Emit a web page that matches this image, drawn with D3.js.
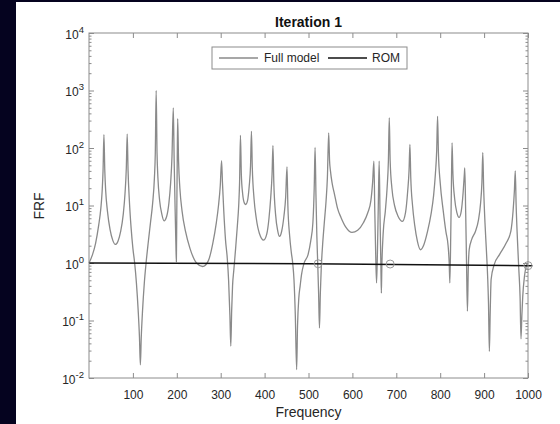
<!DOCTYPE html>
<html>
<head>
<meta charset="utf-8">
<script src="https://cdn.jsdelivr.net/npm/d3@7"></script>
<style>
  html, body { margin: 0; padding: 0; background: #05031f; }
  #chart { width: 560px; height: 424px; }
</style>
</head>
<body>
<div id="chart"></div>
<script>
// Full model FRF: [frequency, |FRF|]
const fullModel = [
  [0, 1.0], [8, 1.4], [15, 2.2], [22, 4.5], [27, 9], [30, 18], [32, 40], [34, 170],
  [36, 40], [38, 18], [42, 8], [48, 3.8], [54, 2.5], [60, 2.1], [66, 2.4], [72, 3.5],
  [78, 7], [82, 16], [85, 45], [87, 175], [89, 40], [92, 12], [96, 4], [100, 1.8],
  [104, 1.0], [108, 0.45], [112, 0.15], [115, 0.05], [117, 0.017], [119, 0.05], [122, 0.15],
  [126, 0.45], [130, 1.0], [135, 2.3], [140, 5], [145, 11], [149, 30], [151, 80], [153, 1000],
  [155, 80], [157, 30], [161, 12], [166, 7], [171, 5.4], [177, 6.5], [182, 11], [186, 25],
  [189, 70], [192, 500], [194, 60], [196, 10], [198, 2], [199, 1.05], [200, 8], [201, 60],
  [202, 325], [204, 60], [207, 20], [212, 8], [220, 3.5], [230, 1.8], [245, 1.0], [259, 0.87],
  [272, 1.1], [282, 2.2], [290, 5], [295, 10], [299, 22], [302, 60], [304, 25], [307, 8],
  [311, 2.5], [315, 1.2], [318, 0.5], [321, 0.12], [323, 0.036], [325, 0.15], [327, 0.4],
  [330, 0.77], [334, 1.8], [338, 4.5], [341, 10], [343, 25], [345, 166], [347, 35], [350, 16],
  [354, 11], [357, 10.4], [361, 12], [365, 22], [368, 50], [370, 195], [372, 45], [376, 13],
  [381, 6], [388, 3.3], [398, 2.5], [405, 3.2], [410, 6], [414, 14], [417, 35], [419, 110],
  [421, 25], [425, 7], [430, 3.6], [434, 2.9], [439, 3.6], [444, 6.5], [448, 14], [451, 47],
  [453, 10], [457, 3], [461, 1.5], [464, 1.0], [467, 0.5], [470, 0.12], [473, 0.014],
  [475, 0.08], [478, 0.25], [481, 0.4], [484, 0.62], [490, 1.0], [499, 1.4], [505, 2.4],
  [510, 5], [513, 20], [515, 102], [517, 15], [519, 3], [521, 1.0], [523, 0.3], [525, 0.074],
  [527, 0.3], [529, 0.8], [532, 2], [536, 5], [540, 12], [543, 30], [546, 183], [548, 60],
  [550, 40], [554, 24], [559, 16], [566, 9], [574, 6.2], [585, 4.2], [599, 3.4], [612, 3.7],
  [625, 5], [635, 7.5], [642, 12], [646, 25], [649, 59], [651, 8], [653, 1.5], [655, 0.45],
  [657, 1.5], [659, 10], [661, 59], [663, 6], [665, 0.8], [666, 0.3], [667, 0.8], [670, 3.2],
  [675, 8], [679, 20], [682, 60], [684, 335], [686, 60], [690, 20], [696, 10], [704, 6.5],
  [714, 5.3], [721, 7.5], [726, 18], [729, 40], [731, 115], [733, 30], [737, 10], [742, 4.5],
  [748, 2.4], [755, 1.7], [763, 2.1], [771, 3.5], [779, 7], [785, 15], [789, 35], [792, 90],
  [794, 355], [796, 80], [800, 25], [807, 8], [813, 3.5], [818, 2], [820.5, 1], [822, 0.45],
  [824, 3], [825.5, 20], [827, 123], [829, 35], [833, 13], [838, 7.5], [843, 6.2], [848, 8],
  [852, 16], [855, 35], [856, 45], [858, 8], [860, 1], [862, 0.145], [864, 0.8], [866, 1.7],
  [872, 2.6], [880, 3.5], [887, 5.5], [892, 11], [895, 25], [897, 83], [899, 20], [902, 5],
  [905, 1.8], [908, 0.6], [910, 0.2], [912, 0.029], [914, 0.15], [916, 0.52], [923, 0.94],
  [935, 1.4], [950, 2.2], [961, 3.6], [966, 8], [969, 18], [971, 40], [973, 10], [976, 2.5],
  [979, 0.8], [982, 0.25], [984, 0.048], [986, 0.12], [988, 0.26], [992, 0.59], [996, 0.88],
  [1000, 1.0]
];

// reduced order model
const romModel = [[0, 1.0], [500, 0.97], [1010, 0.895]];
// interpolation points (open circles)
const romPoints = [[522, 0.97], [686, 0.96], [1000, 0.9]];

const xTicks = [100, 200, 300, 400, 500, 600, 700, 800, 900, 1000];
const yTicks = [1e-2, 1e-1, 1e0, 1e1, 1e2, 1e3, 1e4];
const yExponents = ['-2', '-1', '0', '1', '2', '3', '4'];
const legendNames = ['Full model', 'ROM'];
const legendColors = ['#8a8a8a', '#111111'];

(function () {
  'use strict';

  const W = 560, H = 424;
  const m = { left: 89, right: 528, top: 33, bottom: 378 };
  const FONT = "'Liberation Sans', Arial, Helvetica, sans-serif";
  const AXIS = '#8c8c8c', TEXT = '#262626';

  const svg = d3.select('#chart').append('svg').attr('width', W).attr('height', H);

  // white figure panel on the dark page
  svg.append('rect').attr('x', 16).attr('y', 2).attr('width', W - 16).attr('height', H - 2).attr('fill', '#fff');

  const x = d3.scaleLinear().domain([0, 1000]).range([m.left, m.right]);
  const y = d3.scaleLog().domain([1e-2, 1e4]).range([m.bottom, m.top]);

  // ticks (inward, mirrored on top/right)
  const minor = y.ticks().filter(v => yTicks.indexOf(v) < 0);
  function styleAxis(sel) {
    sel.selectAll('.domain').remove();
    sel.selectAll('line').attr('stroke', AXIS);
    sel.selectAll('text').style('font-family', FONT).style('font-size', '12px').attr('fill', TEXT);
  }
  svg.append('g').attr('transform', `translate(0,${m.bottom})`)
    .call(d3.axisBottom(x).tickValues(xTicks).tickFormat(d3.format('d'))
      .tickSizeInner(-5).tickSizeOuter(0).tickPadding(12.5))
    .call(styleAxis);
  svg.append('g').attr('transform', `translate(0,${m.top})`)
    .call(d3.axisTop(x).tickValues(xTicks).tickSizeInner(-5).tickSizeOuter(0).tickFormat(''))
    .call(styleAxis);
  [[m.left, d3.axisLeft], [m.right, d3.axisRight]].forEach(([px, ax]) => {
    svg.append('g').attr('transform', `translate(${px},0)`)
      .call(ax(y).tickValues(minor).tickSizeInner(-2.5).tickSizeOuter(0).tickFormat(''))
      .call(styleAxis);
    svg.append('g').attr('transform', `translate(${px},0)`)
      .call(ax(y).tickValues(yTicks).tickSizeInner(-5).tickSizeOuter(0).tickFormat(''))
      .call(styleAxis);
  });

  // y tick labels with superscripts
  const yl = svg.append('g');
  yTicks.forEach((v, i) => {
    const t = yl.append('text').attr('x', 84).attr('y', y(v) + 5.5).attr('text-anchor', 'end')
      .style('font-family', FONT).style('font-size', '12px').attr('fill', TEXT);
    t.append('tspan').text('10');
    t.append('tspan').attr('dy', -6).style('font-size', '9.5px').text(yExponents[i]);
  });

  // curves
  const line = d3.line().x(d => x(d[0])).y(d => y(d[1])).curve(d3.curveMonotoneX);
  svg.append('path').datum(fullModel).attr('fill', 'none')
    .attr('stroke', legendColors[0]).attr('stroke-width', 1.3).attr('stroke-linejoin', 'round').attr('d', line);
  svg.append('path').datum(romModel).attr('fill', 'none')
    .attr('stroke', legendColors[1]).attr('stroke-width', 1.4).attr('d', line);
  svg.selectAll('.pt').data(romPoints).enter().append('circle')
    .attr('cx', d => x(d[0])).attr('cy', d => y(d[1])).attr('r', 4)
    .attr('fill', 'none').attr('stroke', '#9a9a9a').attr('stroke-width', 1);

  // axes box
  svg.append('rect').attr('x', m.left).attr('y', m.top)
    .attr('width', m.right - m.left).attr('height', m.bottom - m.top)
    .attr('fill', 'none').attr('stroke', AXIS).attr('stroke-width', 1);

  // labels
  svg.append('text').attr('x', (m.left + m.right) / 2).attr('y', 27).attr('text-anchor', 'middle')
    .style('font-family', FONT).style('font-size', '14px').style('font-weight', 'bold').attr('fill', '#111')
    .text('Iteration 1');
  svg.append('text').attr('x', (m.left + m.right) / 2).attr('y', 417).attr('text-anchor', 'middle')
    .style('font-family', FONT).style('font-size', '14px').attr('fill', TEXT).text('Frequency');
  svg.append('text').attr('transform', 'translate(44,206) rotate(-90)').attr('text-anchor', 'middle')
    .style('font-family', FONT).style('font-size', '14px').attr('fill', TEXT).text('FRF');

  // legend
  const lg = svg.append('g').attr('transform', 'translate(212,47)');
  lg.append('rect').attr('width', 195).attr('height', 22).attr('fill', '#fff').attr('stroke', AXIS);
  const items = [{ x0: 7, tx: 52 }, { x0: 116, tx: 160 }];
  items.forEach((it, i) => {
    lg.append('line').attr('x1', it.x0).attr('x2', it.x0 + 39).attr('y1', 11).attr('y2', 11)
      .attr('stroke', legendColors[i]).attr('stroke-width', 1.4);
    lg.append('text').attr('x', it.tx).attr('y', 15.3)
      .style('font-family', FONT).style('font-size', '12px').attr('fill', TEXT).text(legendNames[i]);
  });
})();
</script>
</body>
</html>
